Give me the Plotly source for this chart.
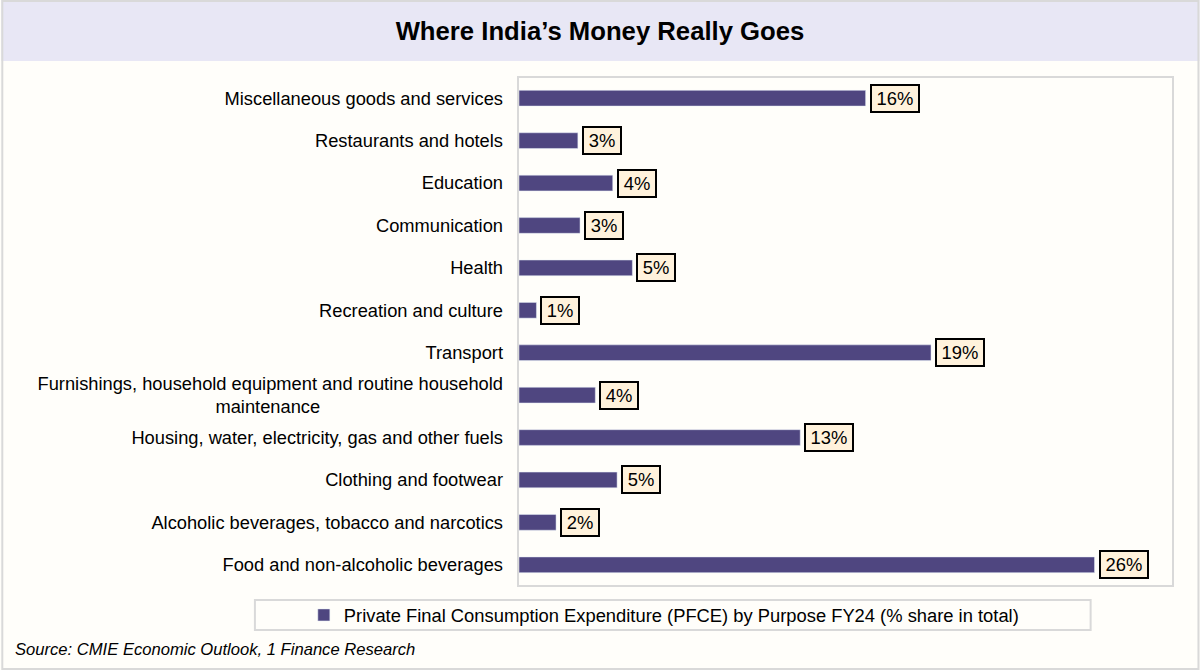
import plotly.graph_objects as go

categories = [
    "Food and non-alcoholic beverages",
    "Alcoholic beverages, tobacco and narcotics",
    "Clothing and footwear",
    "Housing, water, electricity, gas and other fuels",
    "Furnishings, household equipment and routine household<br>maintenance" + "\u00a0" * 36,
    "Transport",
    "Recreation and culture",
    "Health",
    "Communication",
    "Education",
    "Restaurants and hotels",
    "Miscellaneous goods and services",
]
values = [26.4, 1.7, 4.5, 12.9, 3.5, 18.9, 0.8, 5.2, 2.8, 4.3, 2.7, 15.9]
labels = ["26%", "2%", "5%", "13%", "4%", "19%", "1%", "5%", "3%", "4%", "3%", "16%"]
series_name = "Private Final Consumption Expenditure (PFCE) by Purpose FY24 (% share in total)"
title = "Where India’s Money Really Goes"
source = "Source: CMIE Economic Outlook, 1 Finance Research"

W, H = 1200, 670
L, R, T, B = 518.5, 1173.5, 77, 586
FONT = "Liberation Sans"
BAR = "#4F4680"
BG = "#FFFEFA"
GREY = "#D9D9D9"


def px(x):
    return (x - L) / (R - L)


def py(y):
    return (B - y) / (B - T)


fig = go.Figure(
    go.Bar(
        x=values,
        y=categories,
        orientation="h",
        name=series_name,
        marker=dict(color=BAR),
        showlegend=True,
        hoverinfo="x+y",
    )
)

shapes = [
    dict(type="rect", xref="paper", yref="paper", x0=px(0), x1=px(W), y0=py(0), y1=py(61),
         fillcolor="#E8E7F5", line=dict(width=0), layer="below"),
    dict(type="rect", xref="paper", yref="paper", x0=px(1), x1=px(W - 1), y0=py(1), y1=py(H - 1),
         fillcolor="rgba(0,0,0,0)", line=dict(color=GREY, width=2), layer="below"),
    dict(type="rect", xref="paper", yref="paper", x0=px(517.5), x1=px(1173.5), y0=py(77), y1=py(586),
         fillcolor="rgba(0,0,0,0)", line=dict(color=GREY, width=2), layer="below"),
    dict(type="rect", xref="paper", yref="paper", x0=px(254), x1=px(1091), y0=py(600), y1=py(630),
         fillcolor="rgba(0,0,0,0)", line=dict(color=GREY, width=2), layer="below"),
]

annotations = [
    dict(x=v, y=c, xref="x", yref="y", text=t, showarrow=False, xanchor="left", yanchor="middle",
         xshift=4, width=10 * len(t) + 12, font=dict(family=FONT, size=18.4, color="#000000"),
         bgcolor="#FFF2DC", bordercolor="#000000", borderwidth=2, borderpad=2)
    for v, c, t in zip(values, categories, labels)
]
annotations.append(
    dict(x=px(12), y=py(649), xref="paper", yref="paper", text=source, showarrow=False,
         xanchor="left", yanchor="middle",
         font=dict(family=FONT, size=16.6, color="#000000", style="italic"))
)

fig.update_layout(
    width=W,
    height=H,
    autosize=False,
    margin=dict(l=L, r=W - R, t=T, b=H - B, pad=0),
    paper_bgcolor=BG,
    plot_bgcolor=BG,
    bargap=0.63,
    title=dict(text=title, x=600 / W, xanchor="center", xref="container", y=1 - 31 / H, yanchor="middle",
               yref="container",
               font=dict(family=FONT, size=25.7, color="#000000", weight="bold")),
    xaxis=dict(range=[0, 30], visible=False, showgrid=False, zeroline=False),
    yaxis=dict(type="category", categoryorder="array", categoryarray=categories, showgrid=False,
               zeroline=False, showline=False, ticks="", ticklabelstandoff=15,
               tickfont=dict(family=FONT, size=18.3, color="#000000")),
    legend=dict(x=px(303), y=py(615), xanchor="left", yanchor="middle", orientation="h",
                bgcolor="rgba(0,0,0,0)", borderwidth=0,
                font=dict(family=FONT, size=18.35, color="#000000")),
    shapes=shapes,
    annotations=annotations,
)

fig.write_html("out.html", config={"displayModeBar": False},
               post_script="document.body.style.margin='0';document.documentElement.style.overflow='hidden';")
